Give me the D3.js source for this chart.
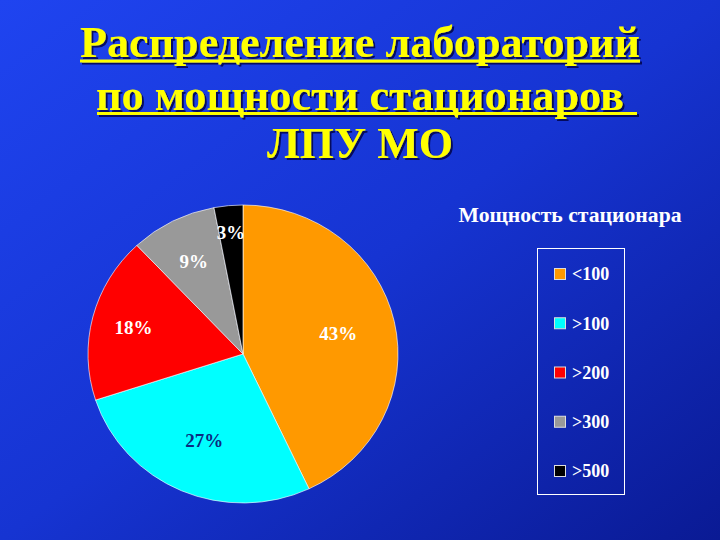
<!DOCTYPE html>
<html><head><meta charset="utf-8">
<script src="https://cdn.jsdelivr.net/npm/d3@7"></script>
<style>html,body{margin:0;padding:0;background:#1030c0;}svg{display:block;}</style>
</head><body>
<svg id="chart" width="720" height="540"></svg>
<script>
const titleLines = ["Распределение лабораторий", "по мощности стационаров", "ЛПУ МО"];
const legendTitle = "Мощность стационара";
const categories = ["<100", ">100", ">200", ">300", ">500"];
const values = [43, 27, 18, 9, 3];
const labels = ["43%", "27%", "18%", "9%", "3%"];
const colors = ["#ff9900", "#00ffff", "#ff0000", "#999999", "#000000"];
const labelColors = ["#ffffff", "#0b2a80", "#ffffff", "#ffffff", "#ffffff"];

const svg = d3.select("#chart");
const defs = svg.append("defs");
const grad = defs.append("linearGradient").attr("id","bg")
  .attr("x1","0").attr("y1","0").attr("x2","1").attr("y2","1");
grad.append("stop").attr("offset","0").attr("stop-color","#1f44f0");
grad.append("stop").attr("offset","0.5").attr("stop-color","#1634d2");
grad.append("stop").attr("offset","1").attr("stop-color","#0a1a94");
svg.append("rect").attr("width",720).attr("height",540).attr("fill","url(#bg)");

const shadow = defs.append("filter").attr("id","sh").attr("x","-10%").attr("y","-10%").attr("width","120%").attr("height","130%");
shadow.append("feDropShadow").attr("dx",2).attr("dy",2).attr("stdDeviation",0.6)
  .attr("flood-color","#000040").attr("flood-opacity",0.8);

// Title
const serif = "'Liberation Serif','Times New Roman',serif";
const tBase = [57, 110, 158];
const tLen = [560, 528, null];
const tg = svg.append("g").attr("filter","url(#sh)");
titleLines.forEach((t,i)=>{
  const el = tg.append("text").attr("x",360).attr("y",tBase[i])
    .attr("text-anchor","middle").attr("font-family",serif).attr("font-weight","bold")
    .attr("font-size",44).attr("fill","#ffff00").text(t);
  if (tLen[i]) el.attr("textLength",tLen[i]).attr("lengthAdjust","spacingAndGlyphs");
});
const ul = [[80,640,61],[97,637,113.5]];
ul.forEach(u=>tg.append("rect").attr("x",u[0]).attr("y",u[2]-1.5).attr("width",u[1]-u[0]).attr("height",3).attr("fill","#ffff00"));

// Pie
const cx = 243, cy = 354, rx = 155, ry = 149;
const pie = d3.pie().sort(null).value(d=>d)(values);
const arc = d3.arc().innerRadius(0).outerRadius(rx);
const pg = svg.append("g").attr("transform",`translate(${cx},${cy}) scale(1,${ry/rx})`);
pg.selectAll("path").data(pie).join("path")
  .attr("d",arc).attr("fill",(d,i)=>colors[i])
  .attr("stroke","#ffffff").attr("stroke-width",0.8).attr("stroke-opacity",0.8);

const lg = svg.append("g").attr("transform",`translate(${cx},${cy})`);
pie.forEach((d,i)=>{
  const share = (d.endAngle-d.startAngle)/(2*Math.PI);
  const f = share < 0.05 ? 0.82 : (share < 0.1 ? 0.70 : (share < 0.2 ? 0.73 : 0.63));
  const a = (d.startAngle+d.endAngle)/2;
  const x = Math.sin(a)*rx*f, y = -Math.cos(a)*ry*f;
  lg.append("text").attr("x",x).attr("y",y).attr("dy","0.35em")
    .attr("text-anchor","middle").attr("font-family",serif).attr("font-weight","bold")
    .attr("font-size",19).attr("fill",labelColors[i]).text(labels[i]);
});

// Legend
svg.append("text").attr("x",570).attr("y",222).attr("text-anchor","middle")
  .attr("font-family",serif).attr("font-weight","bold").attr("font-size",20)
  .attr("fill","#ffffff").attr("textLength",223).attr("lengthAdjust","spacingAndGlyphs")
  .text(legendTitle);
svg.append("rect").attr("x",537.5).attr("y",248.5).attr("width",87).attr("height",246)
  .attr("fill","none").attr("stroke","#ffffff").attr("stroke-width",1);
const ly = d3.scalePoint().domain(categories).range([274, 471]);
const items = svg.append("g").selectAll("g").data(categories).join("g")
  .attr("transform",d=>`translate(554,${ly(d)})`);
items.append("rect").attr("x",0.5).attr("y",-5.5).attr("width",11).attr("height",11)
  .attr("fill",(d,i)=>colors[i]).attr("stroke","#dddddd").attr("stroke-width",1);
items.append("text").attr("x",18).attr("y",0).attr("dy","0.35em")
  .attr("font-family",serif).attr("font-weight","bold").attr("font-size",18)
  .attr("fill","#ffffff").text(d=>d);
</script>
</body></html>
